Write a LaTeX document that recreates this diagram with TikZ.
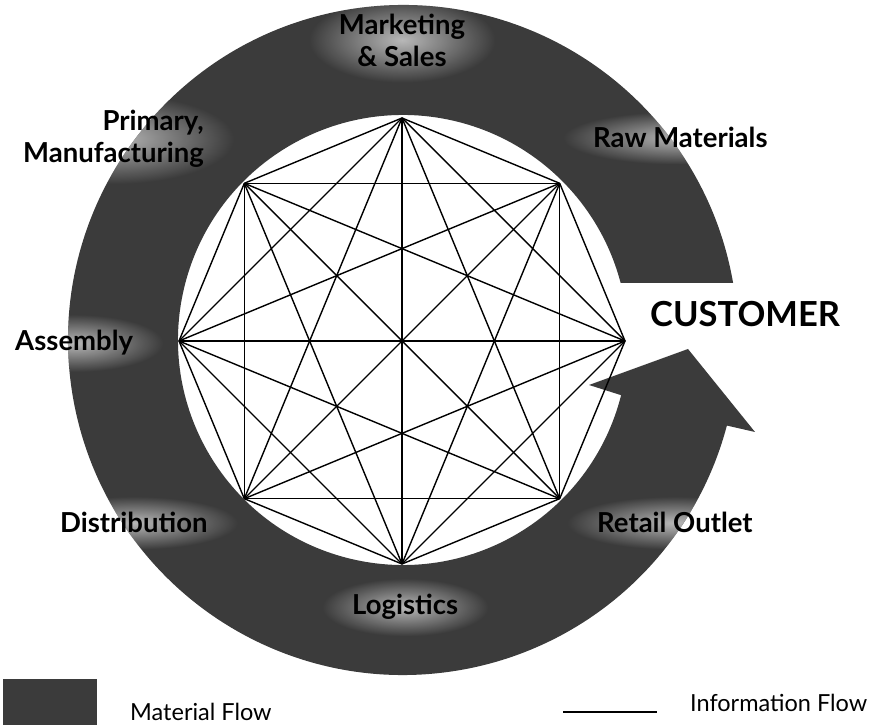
\documentclass[tikz,border=0pt]{standalone}
\usepackage{fontspec}
\setmainfont{Lato}
\usetikzlibrary{calc,fadings}
\definecolor{ringgray}{gray}{0.23}
\definecolor{halo}{gray}{0.72}
\tikzfading[name=softglow, inner color=transparent!0, outer color=transparent!100]
\pgfdeclarelayer{bg}
\pgfsetlayers{bg,main}
\begin{document}
\begin{tikzpicture}[x=1pt,y=1pt,
  lbl/.style={font=\fontsize{27.5}{32}\selectfont\bfseries, inner sep=0pt, text=black},
  big/.style={font=\fontsize{34.5}{38}\selectfont\bfseries, inner sep=0pt, text=black},
  leg/.style={font=\fontsize{23.5}{28}\selectfont, inner sep=0pt},
  info/.style={line width=1.4pt, black},
  ring/.style={fill=ringgray},
  glow/.style={fill=halo, path fading=softglow}]
\useasboundingbox (0,0) rectangle (870,728);
\coordinate (O) at (403,388);
% octagon vertices and information flow lines
\foreach \i in {0,...,7} \coordinate (v\i) at ($(402,387)+(\i*45:223)$);
\foreach \i in {0,...,6} {
  \pgfmathtruncatemacro\s{\i+1}
  \foreach \j in {\s,...,7} \draw[info] (v\i) -- (v\j);
}
% labels
\node[lbl, align=center] (mkt) at (402,688) {Marketing\\\& Sales};
\node[lbl, align=right, anchor=east] (prim) at (204,589) {Primary,\\Manufacturing};
\node[lbl, anchor=base west] (raw) at (593,580) {Raw Materials};
\node[big, anchor=base west] (cust) at (650,401) {CUSTOMER};
\node[lbl, anchor=base west] (asm) at (15,377) {Assembly};
\node[lbl, anchor=base west] (dist) at (60,195) {Distribution};
\node[lbl, anchor=base west] (ret) at (597,195) {Retail Outlet};
\node[lbl, anchor=base west] (log) at (352,113) {Logistics};
% material flow ring with arrow, and glows behind the labels
\begin{pgfonlayer}{bg}
\begin{scope}
\clip ($(O)+(9.8:335)$) arc[start angle=9.8,end angle=345.2,radius=335]
  -- (755,296) -- (688,379) -- (589,343) -- ($(O)+(-14.2:225)$)
  arc[start angle=345.8,end angle=14.68,radius=225] -- cycle;
\fill[ring] (0,0) rectangle (870,728);
\foreach \n in {mkt,prim,raw,asm,dist,ret,log}
  \fill[glow] ($(\n.south west)+(-30,-16)$) rectangle ($(\n.north east)+(30,16)$);
\end{scope}
\end{pgfonlayer}
% legend
\fill[ring] (3,3) rectangle (97,49);
\node[leg, anchor=base west] (mf) at (130,7) {Material Flow};
\coordinate (la) at (563,16);
\coordinate (lb) at (657,16);
\draw[info] (la) -- (lb);
\node[leg, anchor=base west] (inf) at (690,16) {Information Flow};
\end{tikzpicture}
\end{document}
